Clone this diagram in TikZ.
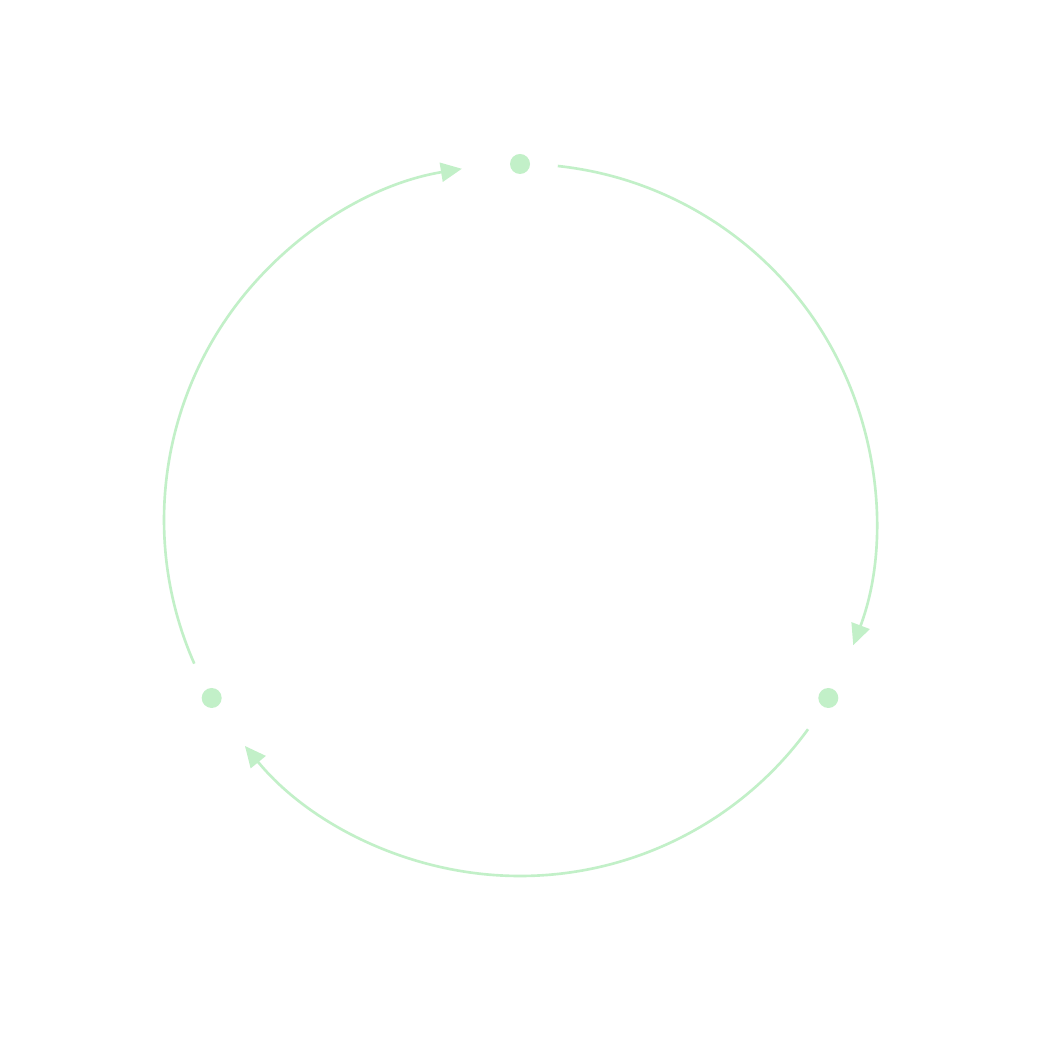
\documentclass[tikz,border=0pt]{standalone}
\usetikzlibrary{arrows.meta,calc}
\definecolor{mint}{RGB}{194,240,200}
\begin{document}
\begin{tikzpicture}[
  dot/.style={circle, fill=mint, inner sep=0pt, minimum size=2mm},
  flow/.style={draw=mint, line width=0.75pt, -{Triangle[length=2.1mm,width=1.9mm]}}
]
\useasboundingbox (0,0) rectangle (10.4,10.4);
\fill[white] (0,0) rectangle (10.4,10.4);
\coordinate (c) at (5.2,5.2);
\node[dot] (top) at ($(c)+(90:3.56)$) {};
\node[dot] (br) at ($(c)+(-30:3.56)$) {};
\node[dot] (bl) at ($(c)+(210:3.56)$) {};
\coordinate (s1) at ($(c)+(83.9:3.56)$);
\coordinate (s2) at ($(c)+(-36:3.56)$);
\coordinate (s3) at ($(c)+(203.8:3.56)$);
\draw[flow] (s1) arc[start angle=83.9, end angle=-20.6, radius=3.56];
\draw[flow] (s2) arc[start angle=-36, end angle=-140.6, radius=3.56];
\draw[flow] (s3) arc[start angle=203.8, end angle=99.4, radius=3.56];
\end{tikzpicture}
\end{document}
